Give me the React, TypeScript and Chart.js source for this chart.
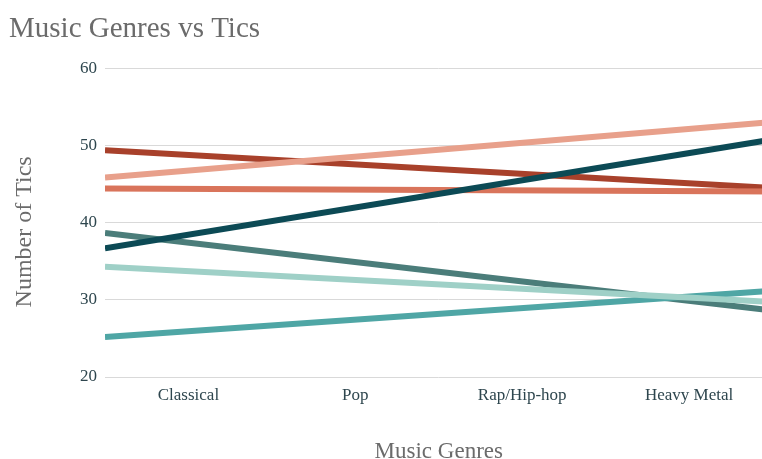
import React, { useEffect, useRef } from "react";
import { Chart, registerables } from "chart.js";

Chart.register(...registerables);

// Genres along the x axis
const categories = ["Classical", "Pop", "Rap/Hip-hop", "Heavy Metal"];

// Y axis ticks
const yTicks = [20, 30, 40, 50, 60];

// One trend line per series: value at the left edge of the genre band and at the right edge
const seriesLabels = ["S1", "S2", "S3", "S4", "S5", "S6", "S7"];
const trendStart = [36.7, 34.3, 45.9, 25.2, 38.7, 44.45, 49.44];
const trendEnd = [50.82, 29.73, 53.11, 31.19, 28.64, 44.09, 44.52];
const seriesColors = [
  "#0c4a55",
  "#9fd0c7",
  "#e8a08b",
  "#4fa6a5",
  "#4b7d7a",
  "#d9745b",
  "#a8412b",
];

const SERIF = "'Liberation Serif', 'Times New Roman', serif";
const Y_TITLE = "Number of Tics";

// Rotated y-axis title, drawn a little below the middle of the plot area
const yTitlePlugin = {
  id: "yTitle",
  afterDraw(chart: any) {
    const { ctx, chartArea } = chart;
    ctx.save();
    ctx.translate(25, (chartArea.top + chartArea.bottom) / 2 + 9);
    ctx.rotate(-Math.PI / 2);
    ctx.font = `24px ${SERIF}`;
    ctx.fillStyle = "#6b6b6b";
    ctx.textAlign = "center";
    ctx.textBaseline = "middle";
    ctx.fillText(Y_TITLE, 0, 0);
    ctx.restore();
  },
};

export default function App() {
  const canvasRef = useRef<HTMLCanvasElement | null>(null);

  useEffect(() => {
    const canvas = canvasRef.current;
    if (!canvas) return;
    const datasets = seriesLabels.map((label, i) => ({
      label,
      data: [
        { x: 0.5, y: trendStart[i] },
        { x: categories.length + 0.5, y: trendEnd[i] },
      ],
      borderColor: seriesColors[i],
      backgroundColor: seriesColors[i],
      borderWidth: 6,
      borderCapStyle: "butt" as const,
      pointRadius: 0,
      tension: 0,
      fill: false,
    }));

    const chart = new Chart(canvas, {
      type: "line",
      data: { datasets },
      plugins: [yTitlePlugin],
      options: {
        animation: false,
        responsive: false,
        maintainAspectRatio: false,
        layout: { padding: { left: 9, right: 3.5, top: 0, bottom: 0 } },
        plugins: {
          legend: { display: false },
          tooltip: { enabled: false },
          title: {
            display: true,
            text: "Music Genres vs Tics",
            align: "start",
            color: "#6b6b6b",
            font: { family: SERIF, size: 29, weight: "normal", lineHeight: 1.2 },
            padding: { top: 12, bottom: 22 },
          },
        },
        scales: {
          x: {
            type: "linear",
            min: 0.5,
            max: categories.length + 0.5,
            afterBuildTicks: (scale: any) => {
              scale.ticks = categories.map((_, i) => ({ value: i + 1 }));
            },
            afterFit: (scale: any) => {
              scale.height = 82;
            },
            grid: { display: false, drawTicks: false },
            border: { display: false },
            ticks: {
              autoSkip: false,
              maxRotation: 0,
              padding: 8,
              color: "#2e464e",
              font: { family: SERIF, size: 17 },
              callback: (v: any) => categories[Math.round(Number(v)) - 1] ?? "",
            },
            title: {
              display: true,
              text: "Music Genres",
              color: "#6b6b6b",
              font: { family: SERIF, size: 23, lineHeight: 1 },
              padding: { top: 0, bottom: -4 },
            },
          },
          y: {
            min: yTicks[0],
            max: yTicks[yTicks.length - 1],
            afterBuildTicks: (scale: any) => {
              scale.ticks = yTicks.map((v) => ({ value: v }));
            },
            afterFit: (scale: any) => {
              scale.width = 96;
            },
            grid: { color: "#d9d9d9", lineWidth: 1, drawTicks: false },
            border: { display: false },
            ticks: {
              padding: 8,
              color: "#2e464e",
              font: { family: SERIF, size: 17 },
            },
          },
        },
      },
    });
    return () => chart.destroy();
  }, []);

  return (
    <div
      style={{
        position: "fixed",
        left: 0,
        top: 0,
        width: 762,
        height: 459,
        overflow: "hidden",
        background: "#ffffff",
      }}
    >
      <canvas ref={canvasRef} width={776} height={459} style={{ display: "block" }} />
    </div>
  );
}
